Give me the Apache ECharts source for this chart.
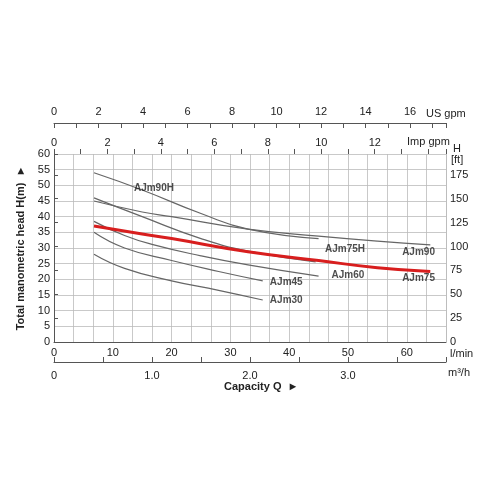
<!DOCTYPE html>
<html><head><meta charset="utf-8">
<script src="https://cdn.jsdelivr.net/npm/echarts@6/dist/echarts.min.js"></script>
<style>html,body{margin:0;background:#fff}#main{width:500px;height:500px}</style>
</head><body><div id="main"></div>
<script>
// flow in l/min, head in m
const flow90H = [6.8, 15, 25, 33, 45];
const head90H = [54, 48.5, 41, 36, 33];
const flow90 = [6.8, 15, 20, 33, 45, 55, 64];
const head90 = [45, 41.5, 40, 36, 33.8, 32.2, 31];
const flow75H = [6.8, 15, 25, 33, 44.5];
const head75H = [46, 40, 33, 29, 25.6];
const flow75 = [6.8, 15, 20, 33, 45, 55, 64];
const head75 = [37, 34.5, 33, 28.8, 26, 23.7, 22.5];
const flow60 = [6.8, 12, 17, 25, 33, 45];
const head60 = [38.5, 34, 31, 27.5, 24.6, 21];
const flow45 = [6.8, 12, 20, 28, 35.5];
const head45 = [35, 30, 26, 22.5, 19.5];
const flow30 = [6.8, 12, 20, 28, 35.5];
const head30 = [28, 23.5, 19.5, 16.5, 13.4];
const curveLabels = [
  {name: 'AJm90H', x: 17, y: 49},
  {name: 'AJm90', x: 62, y: 28.5},
  {name: 'AJm75H', x: 49.5, y: 29.5},
  {name: 'AJm75', x: 62, y: 20.5},
  {name: 'AJm60', x: 50, y: 21.2},
  {name: 'AJm45', x: 39.5, y: 19.2},
  {name: 'AJm30', x: 39.5, y: 13.3}
];

const XMAX = 66.67;
const pairs = (xs, ys) => xs.map((x, i) => [x, ys[i]]);
const chart = echarts.init(document.getElementById('main'));
const txt = {color: '#222', fontSize: 11, fontFamily: 'Liberation Sans'};
const axisLine = {show: true, lineStyle: {color: '#555'}};

function curve(xs, ys, red) {
  return {
    type: 'line', smooth: true, symbol: 'none', xAxisIndex: 0, yAxisIndex: 0,
    data: pairs(xs, ys),
    lineStyle: red ? {color: '#d81e1e', width: 3} : {color: '#666', width: 1.2},
    z: red ? 5 : 3
  };
}
function note(text, left, top, bold) {
  return {type: 'text', left: left, top: top,
    style: {text: text, font: (bold ? 'bold ' : '') + '11px Liberation Sans', fill: '#222'}};
}

chart.setOption({
  animation: false,
  grid: {left: 54, right: 54, top: 154, bottom: 158},
  xAxis: [
    {type: 'value', min: 0, max: XMAX, interval: 10, position: 'bottom',
     axisLine: axisLine, axisTick: {show: false}, splitLine: {show: false},
     axisLabel: {...txt, margin: 5, showMaxLabel: false}},
    {type: 'value', min: 0, max: XMAX, interval: 10 / 3, show: true,
     axisLine: {show: false}, axisTick: {show: false}, axisLabel: {show: false},
     splitLine: {show: true, lineStyle: {color: '#bbb', width: 0.8}}},
    {type: 'value', min: 0, max: XMAX / 16.667, interval: 0.5, position: 'bottom', offset: 20,
     axisLine: axisLine, axisTick: {show: true, inside: true, length: 5},
     splitLine: {show: false},
     axisLabel: {...txt, formatter: v => (v % 1 === 0 && v < 4) ? (v === 0 ? '0' : v.toFixed(1)) : ''}},
    {type: 'value', min: 0, max: XMAX / 4.546, interval: 1, position: 'top',
     axisLine: {show: false}, axisTick: {show: true, length: 5, lineStyle: {color: '#555'}},
     splitLine: {show: false},
     axisLabel: {...txt, margin: 6, formatter: v => (v % 2 === 0 && v < 14) ? v : ''}},
    {type: 'value', min: 0, max: XMAX / 3.785, interval: 1, position: 'top', offset: 31,
     axisLine: axisLine, axisTick: {show: true, inside: true, length: 5},
     splitLine: {show: false},
     axisLabel: {...txt, margin: 6, formatter: v => (v % 2 === 0 && v < 17) ? v : ''}}
  ],
  yAxis: [
    {type: 'value', min: 0, max: 60, interval: 5, position: 'left',
     axisLine: axisLine, axisTick: {show: false}, axisLabel: {...txt, margin: 4},
     splitLine: {show: true, lineStyle: {color: '#bbb', width: 0.8}},
     name: 'Total manometric head H(m)  ►', nameLocation: 'middle', nameGap: 28,
     nameRotate: 90, nameTextStyle: {...txt, fontWeight: 'bold'}},
    {type: 'value', min: 0, max: 60 * 3.2808, interval: 25, position: 'right',
     axisLine: axisLine, axisTick: {show: true, length: 4, lineStyle: {color: '#555'}},
     axisLabel: {...txt, margin: 4, formatter: v => v <= 175 ? v : ''}, splitLine: {show: false}}
  ],
  graphic: [
    note('Capacity Q  ►', 224, 381, true),
    note('l/min', 450, 348),
    note('m³/h', 448, 367),
    note('Imp gpm', 407, 136),
    note('US gpm', 426, 108),
    note('H', 453, 143),
    note('[ft]', 451, 154)
  ],
  series: [
    curve(flow90H, head90H), curve(flow90, head90), curve(flow75H, head75H),
    curve(flow60, head60), curve(flow45, head45), curve(flow30, head30),
    curve(flow75, head75, true),
    {type: 'scatter', symbolSize: 0, xAxisIndex: 0, yAxisIndex: 0, z: 6,
     data: curveLabels.map(l => ({name: l.name, value: [l.x, l.y]})),
     label: {show: true, formatter: p => p.name, ...txt, fontWeight: 'bold', fontSize: 10}}
  ]
});
</script></body></html>
